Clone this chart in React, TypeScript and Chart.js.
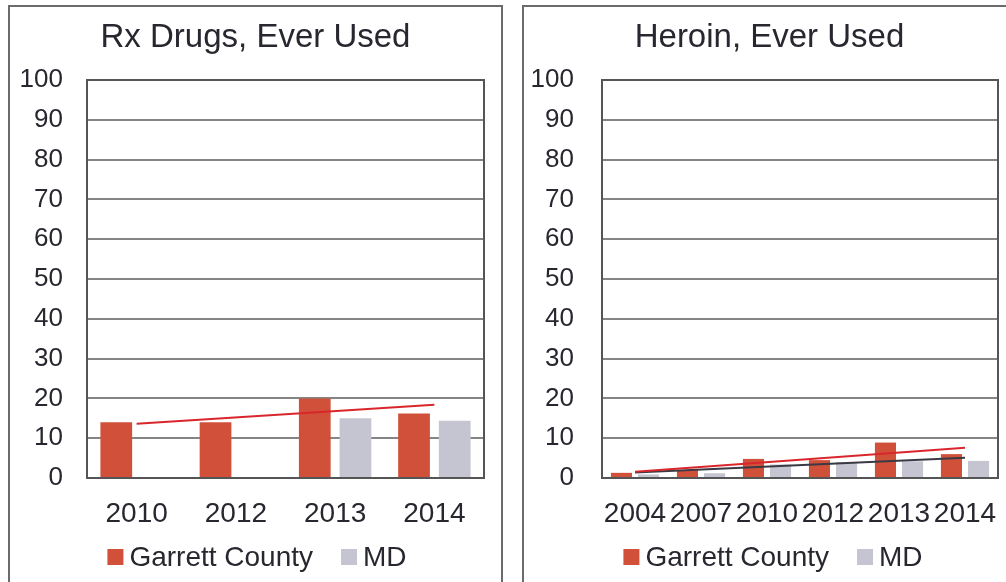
import React, { useEffect, useRef } from 'react';
import { Chart, registerables } from 'chart.js';

Chart.register(...registerables);

// ---- Data ----
const rxYears = ['2010', '2012', '2013', '2014'];
const rxGarrett = [14, 14, 20, 16.2];
const rxMD = [null, null, 15, 14.4];
const rxTrendGarrett = [13.6, null, null, 18.4];

const heroinYears = ['2004', '2007', '2010', '2012', '2013', '2014'];
const heroinGarrett = [1.3, 2.0, 4.8, 4.5, 8.9, 6.0];
const heroinMD = [0.9, 1.2, 3.4, 4.0, 4.2, 4.3];
const heroinTrendGarrett = [1.6, null, null, null, null, 7.6];
const heroinTrendMD = [1.4, null, null, null, null, 5.1];

const seriesNames = ['Garrett County', 'MD'];
const yMin = 0;
const yMax = 100;
const yStep = 10;

// ---- Styles ----
const FONT = "'Liberation Sans', Arial, sans-serif";
const TEXT = '#272730';
const GARRETT_COLOR = '#D1503A';
const MD_COLOR = '#C5C5D1';
const TREND_RED = '#D9262C';
const TREND_DARK = '#3A3A44';

const framePlugin = {
  id: 'plotFrame',
  afterDatasetsDraw(chart: any) {
    const { ctx, chartArea } = chart;
    ctx.save();
    ctx.strokeStyle = '#555555';
    ctx.lineWidth = 2;
    ctx.strokeRect(chartArea.left, chartArea.top, chartArea.right - chartArea.left, chartArea.bottom - chartArea.top);
    ctx.restore();
  },
};

// Centered panel title (centred on the whole panel, not the padded layout box)
const panelTitlePlugin = {
  id: 'panelTitle',
  afterDraw(chart: any, _args: any, opts: any) {
    const ctx = chart.ctx;
    ctx.save();
    ctx.font = `${opts.fontSize}px ${FONT}`;
    ctx.fillStyle = TEXT;
    ctx.textAlign = 'center';
    ctx.textBaseline = 'middle';
    ctx.fillText(opts.text, opts.centerX, opts.y);
    ctx.restore();
  },
};

const legendPlugin = {
  id: 'boxLegend',
  afterDraw(chart: any, _args: any, opts: any) {
    const ctx = chart.ctx;
    const items = chart.data.datasets.filter((d: any) => d.type === 'bar');
    const box = 16;
    const gap = 6;
    const spacing = 28;
    ctx.save();
    ctx.font = `${opts.fontSize}px ${FONT}`;
    ctx.textBaseline = 'middle';
    ctx.textAlign = 'left';
    const widths = items.map((d: any) => box + gap + ctx.measureText(d.label).width);
    const total = widths.reduce((a: number, b: number) => a + b, 0) + spacing * (items.length - 1);
    let x = opts.centerX - total / 2;
    const y = opts.y;
    items.forEach((d: any, i: number) => {
      ctx.fillStyle = d.backgroundColor;
      ctx.fillRect(x, y - box / 2, box, box);
      ctx.fillStyle = TEXT;
      ctx.fillText(d.label, x + box + gap, y + 1);
      x += widths[i] + spacing;
    });
    ctx.restore();
  },
};

type PanelProps = {
  left: number;
  title: string;
  labels: string[];
  garrett: (number | null)[];
  md: (number | null)[];
  trends: { data: (number | null)[]; color: string; label: string }[];
  yWidth: number;
  yPad: number;
  legendX: number;
};

function Panel({ left, title, labels, garrett, md, trends, yWidth, yPad, legendX }: PanelProps) {
  const ref = useRef<HTMLCanvasElement>(null);

  useEffect(() => {
    const trendSets = trends.map((t) => ({
      type: 'line',
      label: t.label,
      data: t.data,
      borderColor: t.color,
      backgroundColor: t.color,
      borderWidth: 2,
      pointRadius: 0,
      spanGaps: true,
      order: -1,
    }));
    const chart = new Chart(ref.current as HTMLCanvasElement, {
      type: 'bar',
      data: {
        labels,
        datasets: [
          {
            type: 'bar',
            label: seriesNames[0],
            data: garrett,
            backgroundColor: GARRETT_COLOR,
            categoryPercentage: 0.82,
            barPercentage: 0.78,
            order: 0,
          },
          {
            type: 'bar',
            label: seriesNames[1],
            data: md,
            backgroundColor: MD_COLOR,
            categoryPercentage: 0.82,
            barPercentage: 0.78,
            order: 0,
          },
          ...trendSets,
        ] as any,
      },
      options: {
        responsive: false,
        animation: false,
        layout: { padding: { left: 0, right: 17, top: 73, bottom: 44 } },
        plugins: {
          legend: { display: false },
          tooltip: { enabled: false },
          title: { display: false },
          panelTitle: { text: title, centerX: 245.5, y: 31, fontSize: 33 },
          boxLegend: { centerX: legendX, y: 550, fontSize: 28 },
        } as any,
        scales: {
          x: {
            grid: { display: false },
            border: { display: false },
            ticks: {
              color: TEXT,
              font: { family: FONT, size: 28 },
              padding: 11,
              autoSkip: false,
              maxRotation: 0,
              minRotation: 0,
            },
            afterFit: (scale: any) => {
              scale.height = 60;
            },
          },
          y: {
            min: yMin,
            max: yMax,
            grid: { color: '#858585', lineWidth: 2, drawTicks: false },
            border: { display: false },
            ticks: {
              stepSize: yStep,
              color: TEXT,
              font: { family: FONT, size: 26 },
              padding: yPad,
            },
            afterFit: (scale: any) => {
              scale.width = yWidth;
            },
          },
        },
      },
      plugins: [framePlugin, panelTitlePlugin, legendPlugin],
    } as any);
    return () => chart.destroy();
  }, []);

  return (
    <div
      style={{
        position: 'absolute',
        left,
        top: 5,
        width: 491,
        height: 590,
        border: '2px solid #6b6b6b',
        borderBottom: 'none',
        background: '#ffffff',
      }}
    >
      <canvas ref={ref} width={491} height={575} style={{ display: 'block', width: 491, height: 575 }} />
    </div>
  );
}

export default function App() {
  return (
    <div
      style={{
        position: 'fixed',
        left: 0,
        top: 0,
        width: 1006,
        height: 582,
        overflow: 'hidden',
        background: '#ffffff',
      }}
    >
      <Panel
        left={8}
        title="Rx Drugs, Ever Used"
        labels={rxYears}
        garrett={rxGarrett}
        md={rxMD}
        trends={[{ data: rxTrendGarrett, color: TREND_RED, label: 'Linear (Garrett County)' }]}
        yWidth={77}
        yPad={24}
        legendX={247}
      />
      <Panel
        left={522}
        title="Heroin, Ever Used"
        labels={heroinYears}
        garrett={heroinGarrett}
        md={heroinMD}
        trends={[
          { data: heroinTrendGarrett, color: TREND_RED, label: 'Linear (Garrett County)' },
          { data: heroinTrendMD, color: TREND_DARK, label: 'Linear (MD)' },
        ]}
        yWidth={78}
        yPad={28}
        legendX={249}
      />
    </div>
  );
}
